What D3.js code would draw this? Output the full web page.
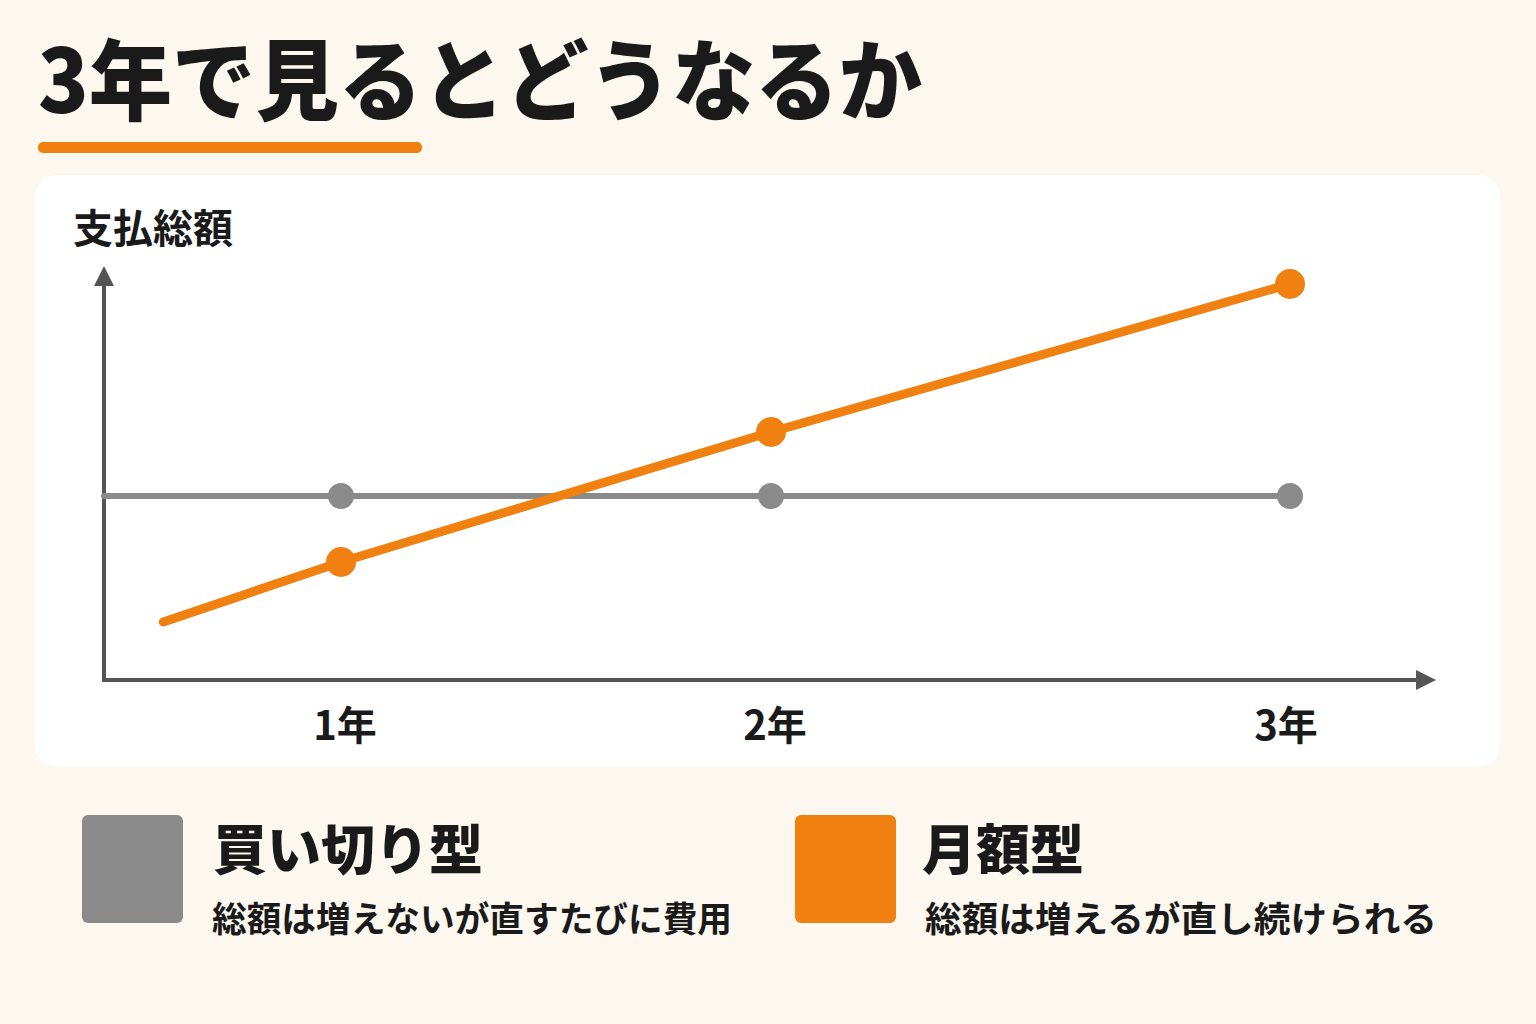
<!DOCTYPE html>
<html>
<head>
<meta charset="utf-8">
<title>3年で見るとどうなるか</title>
<style>
  html, body { margin: 0; padding: 0; background: #fcf8ef; }
  svg { display: block; font-family: "Noto Sans CJK JP", "Noto Sans", sans-serif; }
</style>
</head>
<body>
<svg id="chart" width="1536" height="1024"></svg>
<script src="https://cdn.jsdelivr.net/npm/d3@7"></script>
<script>
// data
var titleText = '3年で見るとどうなるか';
var yLabel = '支払総額';
var yearTicks = [1, 2, 3];
var yearLabels = ['1年', '2年', '3年'];

// 買い切り型: flat total after the first purchase
var buyoutX = [0, 1, 2, 3];
var buyoutY = [46, 46, 46, 46];
var buyoutMarks = [false, true, true, true];

// 月額型: keeps rising
var subsX = [0.25, 1, 2, 3];
var subsY = [14.5, 29.5, 62, 99];
var subsMarks = [false, true, true, true];

var legendNames = ['買い切り型', '月額型'];
var legendNotes = ['総額は増えないが直すたびに費用', '総額は増えるが直し続けられる'];

var gray = '#8a8a8a';
var orange = '#f0800f';
var axisColor = '#555555';

var svg = d3.select('#chart');

// title + underline (reference type is condensed, so squeeze it to width)
svg.append('text')
    .attr('x', 38)
    .attr('y', 113)
    .attr('textLength', 884)
    .attr('lengthAdjust', 'spacingAndGlyphs')
    .style('font-size', '88px')
    .style('font-weight', 900)
    .style('fill', '#1a1a1a')
    .text(titleText);

svg.append('rect')
    .attr('x', 38).attr('y', 142)
    .attr('width', 384).attr('height', 11)
    .attr('rx', 5)
    .style('fill', orange);

// white panel
svg.append('rect')
    .attr('x', 35).attr('y', 175)
    .attr('width', 1465).attr('height', 592)
    .attr('rx', 22)
    .style('fill', '#ffffff');

var originX = 104, originY = 680;

// x positions in the reference are not evenly spaced, so use a piecewise scale
var x = d3.scaleLinear()
    .domain([0, 1, 2, 3])
    .range([originX, 341, 771, 1290]);

var y = d3.scaleLinear()
    .domain([0, 100])
    .range([originY, 280]);

// arrow markers
var defs = svg.append('defs');
defs.append('marker')
    .attr('id', 'arrow')
    .attr('viewBox', '0 0 10 10')
    .attr('refX', 2).attr('refY', 5)
    .attr('markerWidth', 5).attr('markerHeight', 5)
    .attr('markerUnits', 'strokeWidth')
    .attr('orient', 'auto')
    .append('path')
    .attr('d', 'M0,0 L10,5 L0,10 Z')
    .style('fill', axisColor);

var g = svg.append('g');

// axes
g.append('line')
    .attr('x1', originX).attr('y1', originY + 2)
    .attr('x2', originX).attr('y2', 282)
    .style('stroke', axisColor)
    .style('stroke-width', 4)
    .attr('marker-end', 'url(#arrow)');

g.append('line')
    .attr('x1', originX - 2).attr('y1', originY)
    .attr('x2', 1420).attr('y2', originY)
    .style('stroke', axisColor)
    .style('stroke-width', 4)
    .attr('marker-end', 'url(#arrow)');

// y axis label
g.append('text')
    .attr('x', 73).attr('y', 243)
    .style('font-size', '40px')
    .style('font-weight', 700)
    .style('fill', '#1a1a1a')
    .text(yLabel);

// x tick labels
g.selectAll('.tick-label')
    .data(yearTicks)
    .enter().append('text')
    .attr('class', 'tick-label')
    .attr('x', function (d) { return x(d) + (d === 3 ? -4 : 4); })
    .attr('y', 740)
    .attr('text-anchor', 'middle')
    .style('font-size', '40px')
    .style('font-weight', 700)
    .style('fill', '#1a1a1a')
    .text(function (d, i) { return yearLabels[i]; });

var line = d3.line()
    .x(function (d) { return x(d.x); })
    .y(function (d) { return y(d.y); });

function toPoints(xs, ys, marks) {
    return xs.map(function (v, i) { return { x: v, y: ys[i], mark: marks[i] }; });
}

function drawSeries(points, color, width, r) {
    g.append('path')
        .datum(points)
        .attr('d', line)
        .style('fill', 'none')
        .style('stroke', color)
        .style('stroke-width', width)
        .style('stroke-linecap', 'round');

    g.selectAll(null)
        .data(points.filter(function (d) { return d.mark; }))
        .enter().append('circle')
        .attr('cx', function (d) { return x(d.x); })
        .attr('cy', function (d) { return y(d.y); })
        .attr('r', r)
        .style('fill', color);
}

drawSeries(toPoints(buyoutX, buyoutY, buyoutMarks), gray, 6, 13);
drawSeries(toPoints(subsX, subsY, subsMarks), orange, 9, 15);

// legend
var legendX = [82, 795];
var noteWidths = [520, 512];
var legend = svg.selectAll('.legend')
    .data(legendNames)
    .enter().append('g')
    .attr('class', 'legend')
    .attr('transform', function (d, i) { return 'translate(' + legendX[i] + ',815)'; });

legend.append('rect')
    .attr('width', 101).attr('height', 108)
    .attr('rx', 6)
    .style('fill', function (d, i) { return i === 0 ? gray : orange; });

legend.append('text')
    .attr('x', function (d, i) { return i === 0 ? 131 : 127; })
    .attr('y', 55)
    .style('font-size', '54px')
    .style('font-weight', 900)
    .style('fill', '#1a1a1a')
    .text(function (d) { return d; });

legend.append('text')
    .attr('x', 130).attr('y', 117)
    .attr('textLength', function (d, i) { return noteWidths[i]; })
    .attr('lengthAdjust', 'spacingAndGlyphs')
    .style('font-size', '35px')
    .style('font-weight', 700)
    .style('fill', '#1a1a1a')
    .text(function (d, i) { return legendNotes[i]; });
</script>
</body>
</html>
